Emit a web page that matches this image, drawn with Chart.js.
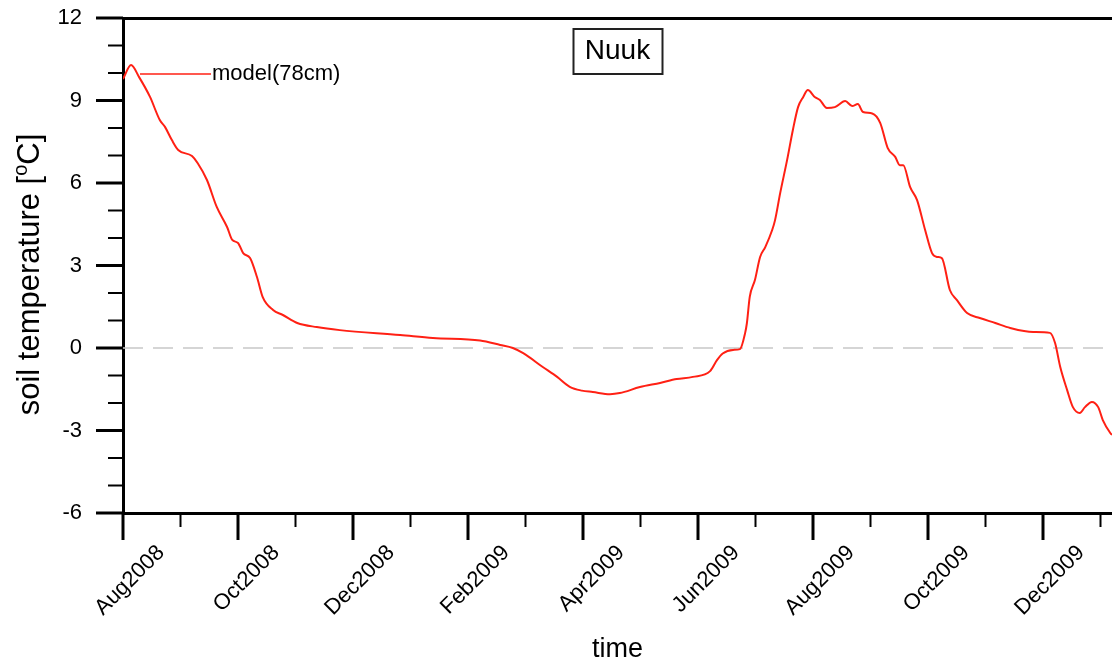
<!DOCTYPE html>
<html>
<head>
<meta charset="utf-8">
<title>Nuuk soil temperature</title>
<script src="https://cdn.jsdelivr.net/npm/chart.js@4.4.1/dist/chart.umd.min.js"></script>
<style>
	html, body { margin: 0; padding: 0; background: #fff; overflow: hidden; }
	#wrap { width: 1112px; height: 668px; position: relative; }
</style>
</head>
<body>
<div id="wrap"><canvas id="soil"></canvas></div>
<script>
// months since Aug 2008 (0 = Aug2008, 2 = Oct2008, ...)
const monthPos = [
	0, 0.14, 0.28, 0.47, 0.64, 0.73, 0.85, 0.96, 1.2, 1.3,
	1.46, 1.63, 1.81, 1.9, 2.0, 2.09, 2.21, 2.33, 2.43, 2.61,
	2.78, 3.03, 3.37, 3.77, 4.82, 5.39, 6.21, 6.56, 6.78, 6.96,
	7.3, 7.55, 7.77, 7.98, 8.17, 8.47, 8.64, 8.99, 9.34, 9.63,
	9.91, 10.21, 10.33, 10.43, 10.61, 10.73, 10.82, 10.85, 10.9, 10.99,
	11.08, 11.17, 11.29, 11.34, 11.43, 11.55, 11.65, 11.74, 11.83, 11.91,
	12.03, 12.12, 12.24, 12.38, 12.56, 12.68, 12.78, 12.87, 13.03, 13.17,
	13.3, 13.43, 13.51, 13.57, 13.69, 13.81, 13.95, 14.07, 14.16, 14.24,
	14.38, 14.5, 14.68, 14.9, 15.17, 15.43, 15.83, 16.12, 16.21, 16.3,
	16.42, 16.52, 16.64, 16.73, 16.85, 16.96, 17.04, 17.17, 17.2
];
// model soil temperature at 78cm, degC
const soilTemp = [
	9.78, 10.29, 9.85, 9.13, 8.29, 8.04, 7.56, 7.2, 6.98, 6.72,
	6.11, 5.13, 4.4, 3.93, 3.82, 3.45, 3.27, 2.58, 1.85, 1.38,
	1.2, 0.91, 0.76, 0.65, 0.47, 0.36, 0.27, 0.11, 0.0, -0.19,
	-0.69, -1.05, -1.41, -1.55, -1.6, -1.68, -1.64, -1.42, -1.27, -1.13,
	-1.05, -0.84, -0.44, -0.2, -0.07, -0.04, 0.55, 0.9, 1.86, 2.47,
	3.31, 3.67, 4.29, 4.65, 5.64, 6.84, 7.93, 8.76, 9.13, 9.38,
	9.13, 9.02, 8.73, 8.76, 8.98, 8.8, 8.87, 8.58, 8.53, 8.18,
	7.27, 6.95, 6.65, 6.65, 5.85, 5.38, 4.29, 3.45, 3.31, 3.27,
	2.11, 1.75, 1.27, 1.09, 0.91, 0.73, 0.58, 0.55, 0.18, -0.69,
	-1.53, -2.15, -2.36, -2.15, -1.96, -2.15, -2.62, -3.09, -3.16
];
// labels on every second month
const monthLabels = [
	'Aug2008', 'Oct2008', 'Dec2008', 'Feb2009', 'Apr2009',
	'Jun2009', 'Aug2009', 'Oct2009', 'Dec2009'
];
const yTicks = [ -6, -3, 0, 3, 6, 9, 12 ];

const FONT = '"Liberation Sans", Arial, Helvetica, sans-serif';
const LINE_RED = 'rgb(255, 32, 20)';

// NCL-style frame: long major ticks, short minor ticks, all outward
const frameTicks = {
	id: 'frameTicks',
	afterDraw: function ( chart ) {
		const ctx = chart.ctx;
		const xs = chart.scales.x;
		const ys = chart.scales.y;
		const area = chart.chartArea;
		ctx.save();
		ctx.strokeStyle = '#000';
		ctx.lineCap = 'butt';
		for ( let v = ys.min; v <= ys.max; v++ ) {
			const major = v % 3 === 0;
			const py = ys.getPixelForValue( v );
			ctx.lineWidth = major ? 3 : 2;
			ctx.beginPath();
			ctx.moveTo( area.left, py );
			ctx.lineTo( area.left - ( major ? 27 : 15 ), py );
			ctx.stroke();
		}
		for ( let m = 0; m <= Math.floor( xs.max ); m++ ) {
			const major = m % 2 === 0;
			const px = xs.getPixelForValue( m );
			ctx.lineWidth = major ? 3 : 2;
			ctx.beginPath();
			ctx.moveTo( px, area.bottom );
			ctx.lineTo( px, area.bottom + ( major ? 27 : 14 ) );
			ctx.stroke();
		}
		ctx.restore();
	}
};

// dashed zero reference line under the curve
const zeroLine = {
	id: 'zeroLine',
	beforeDatasetsDraw: function ( chart ) {
		const ctx = chart.ctx;
		const area = chart.chartArea;
		const py = chart.scales.y.getPixelForValue( 0 );
		ctx.save();
		ctx.strokeStyle = '#c8c8c8';
		ctx.lineWidth = 1.5;
		ctx.setLineDash( [ 20, 10 ] );
		ctx.beginPath();
		ctx.moveTo( area.left, py );
		ctx.lineTo( area.right, py );
		ctx.stroke();
		ctx.restore();
	}
};

// station box, inline legend and the y title with its superscript
const annotations = {
	id: 'annotations',
	afterDraw: function ( chart ) {
		const ctx = chart.ctx;
		const area = chart.chartArea;
		const cx = ( area.left + area.right ) / 2;
		ctx.save();

		// station name in a box
		ctx.font = '28px ' + FONT;
		ctx.textAlign = 'center';
		ctx.textBaseline = 'middle';
		ctx.fillStyle = '#000';
		ctx.fillText( 'Nuuk', cx, area.top + 33 );
		ctx.strokeStyle = '#222';
		ctx.lineWidth = 2;
		ctx.strokeRect( cx - 44, area.top + 11, 89, 45 );

		// legend entry
		ctx.strokeStyle = LINE_RED;
		ctx.lineWidth = 1.5;
		ctx.beginPath();
		ctx.moveTo( area.left + 17, area.top + 56 );
		ctx.lineTo( area.left + 88, area.top + 56 );
		ctx.stroke();
		ctx.font = '22px ' + FONT;
		ctx.textAlign = 'left';
		ctx.fillText( 'model(78cm)', area.left + 89, area.top + 56 );

		// y axis title, rotated, with raised "o"
		const big = '31px ' + FONT;
		const small = '20px ' + FONT;
		const p1 = 'soil temperature [';
		const p2 = 'o';
		const p3 = 'C]';
		ctx.font = big;
		const w1 = ctx.measureText( p1 ).width;
		const w3 = ctx.measureText( p3 ).width;
		ctx.font = small;
		const w2 = ctx.measureText( p2 ).width;
		const total = w1 + w2 + w3;
		ctx.translate( 28, ( area.top + area.bottom ) / 2 + 9 );
		ctx.rotate( -Math.PI / 2 );
		ctx.textBaseline = 'alphabetic';
		ctx.fillStyle = '#000';
		let x = -total / 2;
		ctx.font = big;
		ctx.fillText( p1, x, 11 );
		x += w1;
		ctx.font = small;
		ctx.fillText( p2, x, -1 );
		x += w2;
		ctx.font = big;
		ctx.fillText( p3, x, 11 );
		ctx.restore();
	}
};

new Chart( document.getElementById( 'soil' ), {
	type: 'line',
	data: {
		datasets: [ {
			data: monthPos.map( ( m, i ) => ( { x: m, y: soilTemp[ i ] } ) ),
			borderColor: LINE_RED,
			borderWidth: 2,
			pointRadius: 0,
			tension: 0.35,
			cubicInterpolationMode: 'monotone',
			fill: false
		} ]
	},
	options: {
		responsive: true,
		maintainAspectRatio: false,
		animation: false,
		layout: { padding: { top: 18, right: 0, left: 0, bottom: 0 } },
		plugins: {
			legend: { display: false },
			tooltip: { enabled: false }
		},
		scales: {
			x: {
				type: 'linear',
				min: 0,
				max: 17.2,
				afterBuildTicks: function ( scale ) {
					scale.ticks = monthLabels.map( ( l, i ) => ( { value: i * 2 } ) );
				},
				afterFit: function ( scale ) {
					scale.height = 155;
					scale.paddingLeft = 0;
					scale.paddingRight = 0;
				},
				grid: { display: false, drawTicks: false },
				border: { display: true, color: '#000', width: 3 },
				ticks: {
					autoSkip: false,
					minRotation: 45,
					maxRotation: 45,
					padding: 27,
					labelOffset: 38,
					color: '#000',
					font: { family: FONT, size: 22 },
					callback: function ( v ) {
						return monthLabels[ Math.round( v / 2 ) ];
					}
				},
				title: {
					display: true,
					text: 'time',
					color: '#000',
					font: { family: FONT, size: 27 },
					padding: { top: 0, bottom: 2 }
				}
			},
			xTop: {
				type: 'linear',
				position: 'top',
				min: 0,
				max: 17.2,
				afterFit: function ( scale ) {
					scale.height = 0;
				},
				grid: { display: false, drawTicks: false },
				border: { display: true, color: '#000', width: 3 },
				ticks: { display: false }
			},
			y: {
				min: -6,
				max: 12,
				afterBuildTicks: function ( scale ) {
					scale.ticks = yTicks.map( ( v ) => ( { value: v } ) );
				},
				afterFit: function ( scale ) {
					scale.width = 123;
					scale.paddingTop = 0;
					scale.paddingBottom = 0;
				},
				grid: { display: false, drawTicks: false },
				border: { display: true, color: '#000', width: 3 },
				ticks: {
					padding: 41,
					color: '#000',
					font: { family: FONT, size: 22 }
				}
			}
		}
	},
	plugins: [ zeroLine, frameTicks, annotations ]
} );
</script>
</body>
</html>
